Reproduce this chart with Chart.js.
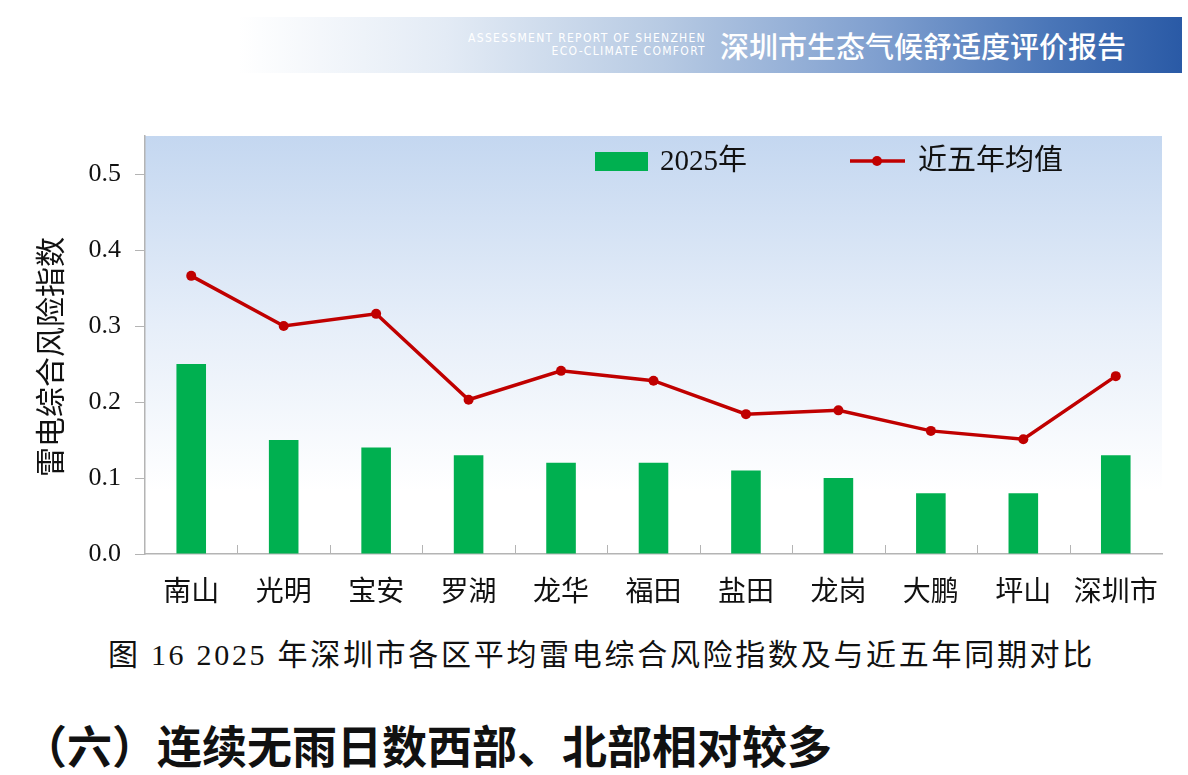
<!DOCTYPE html>
<html>
<head>
<meta charset="utf-8">
<script src="https://cdn.jsdelivr.net/npm/chart.js@4"></script>
<style>
  html, body { margin: 0; padding: 0; background: #fff; }
  body { width: 1188px; height: 775px; position: relative; overflow: hidden; }
  .banner {
    position: absolute; left: 238px; top: 17px; width: 944px; height: 56px;
    background: linear-gradient(to right, #ffffff 0%, #e3ebf5 22%, #b7cae3 45%, #7f9fcf 68%, #4a76b8 86%, #2a5aa6 100%);
  }
  .banner .en {
    position: absolute; right: 476px; top: 15px; color: #fff; text-align: right;
    font-family: "Liberation Sans Narrow", "DejaVu Sans Condensed", sans-serif; font-size: 12px; line-height: 13px;
    letter-spacing: 1.3px;
  }
  .banner .cn {
    position: absolute; left: 482px; top: 11px; color: #fff;
    font-family: "Noto Sans CJK SC"; font-size: 29px; line-height: 34px; font-weight: 500;
  }
  #wrap { position: absolute; left: 0; top: 100px; width: 1188px; height: 520px; }
  .caption {
    position: absolute; left: 108px; top: 630px; white-space: nowrap;
    font-family: "Liberation Serif", "Noto Sans CJK SC"; font-size: 30px; letter-spacing: 2.7px; color: #111;
  }
  .heading {
    position: absolute; left: 22px; top: 712px; white-space: nowrap;
    font-family: "Noto Sans CJK SC"; font-size: 45px; font-weight: 700; color: #111;
  }
</style>
</head>
<body>
<div class="banner">
  <div class="en">ASSESSMENT REPORT OF SHENZHEN<br>ECO-CLIMATE COMFORT</div>
  <div class="cn">深圳市生态气候舒适度评价报告</div>
</div>
<div id="wrap"><canvas id="riskChart"></canvas></div>
<div class="caption">图 16 2025 年深圳市各区平均雷电综合风险指数及与近五年同期对比</div>
<div class="heading">（六）连续无雨日数西部、北部相对较多</div>

<script>
const districts = ["南山", "光明", "宝安", "罗湖", "龙华", "福田", "盐田", "龙岗", "大鹏", "坪山", "深圳市"];
const risk2025 = [0.25, 0.15, 0.14, 0.13, 0.12, 0.12, 0.11, 0.10, 0.08, 0.08, 0.13];
const fiveYearAvg = [0.366, 0.300, 0.316, 0.203, 0.241, 0.228, 0.184, 0.189, 0.162, 0.151, 0.234];
const yTicks = [0, 0.1, 0.2, 0.3, 0.4, 0.5];

const GREEN = "#00b050";
const RED = "#c00000";
const AXIS = "#b4b4b4";
const SERIF = "'Liberation Serif', 'Noto Sans CJK SC'";

// plot area gradient background
const bgPlugin = {
    id: "plotBg",
    beforeDraw(chart) {
        const {ctx, chartArea: a} = chart;
        const g = ctx.createLinearGradient(0, a.top, 0, a.bottom);
        g.addColorStop(0, "#c4d7f0");
        g.addColorStop(0.45, "#e6eef9");
        g.addColorStop(0.85, "#ffffff");
        g.addColorStop(1, "#ffffff");
        ctx.save();
        ctx.fillStyle = g;
        ctx.fillRect(a.left, a.top, a.right - a.left, a.bottom - a.top);
        ctx.restore();
    }
};

// small tick marks between categories, pointing up into the plot
const xTickPlugin = {
    id: "xInsideTicks",
    afterDatasetsDraw(chart) {
        const {ctx, chartArea: a, scales: {x}} = chart;
        ctx.save();
        ctx.strokeStyle = AXIS;
        ctx.lineWidth = 1;
        for (let i = 1; i < districts.length; i++) {
            const px = Math.round((x.getPixelForValue(i - 1) + x.getPixelForValue(i)) / 2) + 0.5;
            ctx.beginPath();
            ctx.moveTo(px, a.bottom);
            ctx.lineTo(px, a.bottom - 9);
            ctx.stroke();
        }
        ctx.restore();
    }
};

// legend drawn inside the plot, top right; y title drawn here too
const legendPlugin = {
    id: "insideLegend",
    afterDraw(chart) {
        const {ctx, chartArea: a} = chart;
        const y = a.top + 25;
        ctx.save();
        ctx.font = "29px " + SERIF;
        ctx.textBaseline = "middle";

        ctx.fillStyle = GREEN;
        ctx.fillRect(a.left + 450, y - 9, 53, 19);
        ctx.fillStyle = "#111";
        ctx.fillText(chart.data.datasets[1].label, a.left + 515, y + 1);

        ctx.strokeStyle = RED;
        ctx.lineWidth = 3.5;
        ctx.beginPath();
        ctx.moveTo(a.left + 705, y);
        ctx.lineTo(a.left + 760, y);
        ctx.stroke();
        ctx.fillStyle = RED;
        ctx.beginPath();
        ctx.arc(a.left + 732, y, 5, 0, Math.PI * 2);
        ctx.fill();
        ctx.fillStyle = "#111";
        ctx.fillText(chart.data.datasets[0].label, a.left + 773, y + 1);

        // y axis title
        ctx.translate(50, (a.top + a.bottom) / 2 + 12);
        ctx.rotate(-Math.PI / 2);
        ctx.textAlign = "center";
        ctx.font = "30px 'Noto Sans CJK SC'";
        ctx.fillText("雷电综合风险指数", 0, 0);
        ctx.restore();
    }
};

const ctx = document.getElementById("riskChart").getContext("2d");
new Chart(ctx, {
    type: "bar",
    data: {
        labels: districts,
        datasets: [
            {
                type: "line",
                label: "近五年均值",
                data: fiveYearAvg,
                borderColor: RED,
                backgroundColor: RED,
                borderWidth: 3.5,
                pointRadius: 5,
                pointBackgroundColor: RED,
                pointBorderWidth: 0,
                tension: 0,
                order: 0
            },
            {
                label: "2025年",
                data: risk2025,
                backgroundColor: GREEN,
                categoryPercentage: 1,
                barPercentage: 0.32,
                order: 1
            }
        ]
    },
    options: {
        responsive: true,
        maintainAspectRatio: false,
        animation: false,
        layout: { padding: { left: 0, right: 26, top: 36, bottom: 0 } },
        plugins: {
            legend: { display: false },
            tooltip: { enabled: false }
        },
        scales: {
            x: {
                grid: { display: false, drawTicks: false },
                border: { color: AXIS, width: 1.5 },
                ticks: {
                    color: "#111",
                    padding: 20,
                    maxRotation: 0,
                    font: { family: "Noto Sans CJK SC", size: 28 }
                },
                afterFit(scale) { scale.height = 66; }
            },
            y: {
                min: 0,
                max: 0.55,
                afterBuildTicks(scale) { scale.ticks = yTicks.map(v => ({ value: v })); },
                grid: { drawOnChartArea: false, tickLength: 10, color: AXIS },
                border: { color: AXIS, width: 1.5 },
                ticks: {
                    color: "#111",
                    padding: 14,
                    font: { family: "Liberation Serif", size: 26 },
                    callback: v => v.toFixed(1)
                },
                afterFit(scale) { scale.width = 145; }
            }
        }
    },
    plugins: [bgPlugin, xTickPlugin, legendPlugin]
});
</script>
</body>
</html>
